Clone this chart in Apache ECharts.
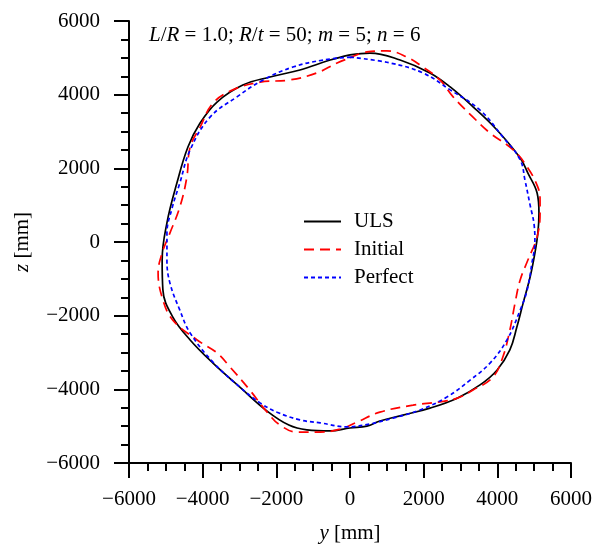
<!DOCTYPE html>
<html>
<head>
<meta charset="utf-8">
<script src="https://cdn.jsdelivr.net/npm/echarts@6/dist/echarts.min.js"></script>
<style>html,body{margin:0;padding:0;background:#fff}#c{width:595px;height:551px}</style>
</head>
<body>
<div id="c"></div>
<script>
// Data: [y (mm), z (mm)] along closed cross-section contours
const ulsPts = [[0,5080],[540,5130],[1360,4940],[2170,4590],[2720,4210],[3340,3670],[3990,3040],[4620,2280],[4830,1870],[5080,1330],[5130,790],[5100,240],[5020,-300],[4890,-950],[4700,-1660],[4530,-2310],[4340,-2930],[3990,-3480],[3530,-3880],[2910,-4240],[2170,-4510],[1440,-4700],[810,-4860],[460,-5000],[0,-5050],[-540,-5130],[-1170,-5100],[-1660,-4970],[-2250,-4590],[-2990,-3940],[-3720,-3290],[-4340,-2660],[-4810,-2040],[-5080,-1300],[-5100,-490],[-4970,520],[-4700,1600],[-4400,2580],[-4070,3230],[-3610,3800],[-2910,4260],[-2170,4480],[-1360,4670],[-540,4940],[0,5080]];
const initialPts = [[0,5000],[460,5160],[1000,5190],[1550,5020],[1980,4750],[2440,4400],[2800,3940],[3340,3390],[3800,2960],[4430,2500],[4810,2040],[5100,1490],[5160,1140],[5160,790],[5080,140],[4830,-490],[4620,-1030],[4480,-1660],[4340,-2390],[4150,-3120],[3880,-3670],[3340,-4020],[2910,-4240],[2440,-4340],[1710,-4430],[810,-4620],[190,-4890],[-270,-5080],[-810,-5160],[-1440,-5160],[-1900,-4970],[-2250,-4620],[-2720,-4020],[-3260,-3390],[-3610,-3010],[-4150,-2660],[-4810,-2120],[-5080,-1570],[-5210,-840],[-5100,-300],[-4890,240],[-4620,950],[-4430,1760],[-4340,2580],[-4070,3120],[-3720,3770],[-3180,4130],[-2440,4340],[-1630,4400],[-900,4590],[-350,4860],[0,5000]];
const perfectPts = [[0,5020],[1090,4860],[1980,4590],[2720,4130],[3530,3580],[4150,2850],[4620,2230],[4750,1680],[4890,1000],[5000,460],[5020,0],[4940,-570],[4810,-1300],[4620,-1850],[4260,-2660],[3800,-3290],[3260,-3750],[2630,-4210],[1900,-4560],[1170,-4780],[540,-4940],[-80,-5020],[-810,-4910],[-1360,-4830],[-1980,-4620],[-2440,-4370],[-2990,-3940],[-3720,-3260],[-4340,-2470],[-4620,-1850],[-4890,-1110],[-4970,-490],[-4970,240],[-4830,920],[-4620,1600],[-4340,2500],[-3800,3390],[-3070,3940],[-2360,4400],[-1550,4750],[-730,4940],[0,5020]];
const seriesNames = ['ULS','Initial','Perfect'];
const axisMin = -6000, axisMax = 6000, axisStep = 2000;

const FONT = 'Liberation Serif';
const FS = 21;
const fmt = v => String(v).replace('-', '\u2212');
const chart = echarts.init(document.getElementById('c'), null, {renderer:'canvas'});
const axisCommon = {
  type:'value', min:axisMin, max:axisMax, interval:axisStep,
  axisLine:{show:true, onZero:false, lineStyle:{color:'#000', width:2}},
  axisTick:{show:true, inside:false, length:15, lineStyle:{color:'#000', width:2}},
  minorTick:{show:true, splitNumber:4, length:8, lineStyle:{color:'#000', width:2}},
  splitLine:{show:false},
  axisLabel:{color:'#000', fontFamily:FONT, fontSize:FS, formatter:fmt},
  nameLocation:'middle',
  nameTextStyle:{color:'#000', fontFamily:FONT, fontSize:FS, rich:{i:{fontStyle:'italic', fontFamily:FONT, fontSize:FS, color:'#000'}}}
};
chart.setOption({
  animation:false,
  backgroundColor:'#fff',
  grid:{left:129, top:21, width:442, height:442, containLabel:false},
  xAxis:Object.assign({}, axisCommon, {name:'{i|y} [mm]', nameGap:60, axisLabel:Object.assign({}, axisCommon.axisLabel, {margin:26})}),
  yAxis:Object.assign({}, axisCommon, {name:'{i|z} [mm]', nameGap:96, axisLabel:Object.assign({}, axisCommon.axisLabel, {margin:29})}),
  legend:{
    show:true, orient:'vertical', left:303, top:211, padding:0, itemWidth:37, itemHeight:14, itemGap:7,
    data:seriesNames,
    itemStyle:{opacity:0},
    textStyle:{color:'#000', fontFamily:FONT, fontSize:FS, lineHeight:21, padding:[0,0,0,8]}
  },
  graphic:[{
    type:'text', left:149, top:25,
    style:{
      text:'{i|L}/{i|R} = 1.0; {i|R}/{i|t} = 50; {i|m} = 5; {i|n} = 6',
      font:FS + 'px "Liberation Serif"', fill:'#000',
      rich:{i:{fontStyle:'italic', fontFamily:FONT, fontSize:FS, fill:'#000'}}
    }
  }],
  series:[
    {name:seriesNames[0], type:'line', data:ulsPts, smooth:0.4, symbol:'none', showSymbol:false,
     lineStyle:{color:'#000', width:1.7, type:'solid'}, itemStyle:{color:'#000'}},
    {name:seriesNames[1], type:'line', data:initialPts, smooth:0.4, symbol:'none', showSymbol:false,
     lineStyle:{color:'#ff0000', width:1.7, type:[10,6]}, itemStyle:{color:'#ff0000'}},
    {name:seriesNames[2], type:'line', data:perfectPts, smooth:0.4, symbol:'none', showSymbol:false,
     lineStyle:{color:'#0000ff', width:1.7, type:[4,3]}, itemStyle:{color:'#0000ff'}}
  ]
});
</script>
</body>
</html>
